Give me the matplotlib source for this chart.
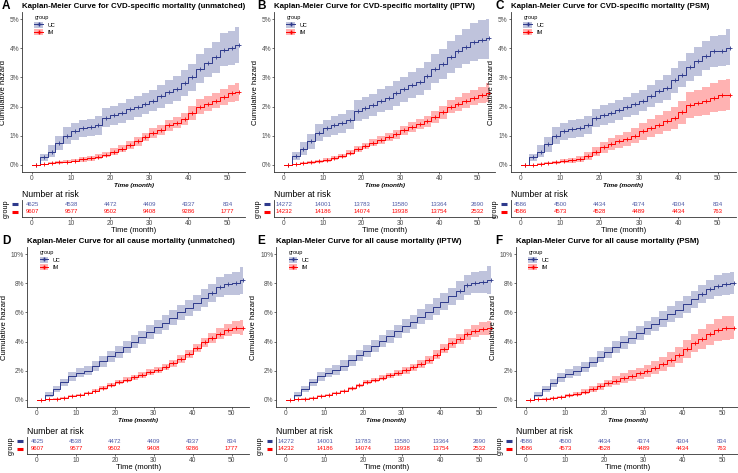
import numpy as np
import matplotlib
matplotlib.use('Agg')
import matplotlib.pyplot as plt
from matplotlib.patches import Patch
from matplotlib.lines import Line2D

plt.rcParams['font.family'] = ['Liberation Sans', 'DejaVu Sans']

# time grid (months) and risk table times
months = np.arange(0, 53, 2)
risk_times = [0, 10, 20, 30, 40, 50]

# cumulative hazard (%)
# A: CVD-specific, unmatched
a_uc = [0, .25, .45, .75, 1.0, 1.15, 1.25, 1.28, 1.35, 1.62, 1.7, 1.78, 1.9, 2.0, 2.1, 2.2, 2.35, 2.5, 2.62, 2.8, 3.0, 3.3, 3.5, 3.7, 3.95, 4.0, 4.1]
a_uc_lo = [0, .12, .25, .5, .72, .85, .95, .98, 1.03, 1.3, 1.37, 1.45, 1.55, 1.65, 1.74, 1.83, 1.96, 2.1, 2.2, 2.36, 2.55, 2.8, 3.0, 3.15, 3.38, 3.42, 3.5]
a_uc_hi = [0, .38, .68, 1.0, 1.3, 1.45, 1.55, 1.58, 1.67, 1.95, 2.03, 2.12, 2.25, 2.37, 2.47, 2.58, 2.75, 2.92, 3.05, 3.25, 3.47, 3.8, 4.02, 4.23, 4.52, 4.6, 4.72]
a_im = [0, .02, .05, .08, .1, .14, .18, .22, .28, .35, .45, .55, .68, .8, .95, 1.1, 1.2, 1.35, 1.45, 1.58, 1.78, 2.0, 2.1, 2.2, 2.33, 2.45, 2.5]
a_im_lo = [0, 0, .01, .03, .05, .08, .11, .14, .19, .25, .34, .43, .55, .66, .8, .93, 1.02, 1.16, 1.25, 1.37, 1.55, 1.76, 1.85, 1.94, 2.06, 2.16, 2.2]
a_im_hi = [0, .04, .08, .12, .15, .2, .25, .3, .37, .45, .56, .67, .81, .94, 1.1, 1.27, 1.38, 1.54, 1.65, 1.79, 2.01, 2.25, 2.36, 2.47, 2.61, 2.75, 2.82]

# B: CVD-specific, IPTW
b_uc = [0, .3, .55, .8, 1.1, 1.25, 1.35, 1.42, 1.55, 1.85, 1.95, 2.05, 2.2, 2.3, 2.45, 2.6, 2.75, 2.85, 3.05, 3.3, 3.45, 3.7, 3.9, 4.05, 4.22, 4.3, 4.37]
b_uc_lo = [0, .15, .33, .53, .8, .95, 1.03, 1.1, 1.22, 1.49, 1.58, 1.67, 1.8, 1.89, 2.03, 2.17, 2.3, 2.39, 2.57, 2.8, 2.93, 3.15, 3.33, 3.45, 3.57, 3.62, 3.62]
b_uc_hi = [0, .45, .77, 1.07, 1.4, 1.55, 1.67, 1.74, 1.88, 2.21, 2.32, 2.43, 2.6, 2.71, 2.87, 3.03, 3.2, 3.31, 3.53, 3.8, 3.97, 4.25, 4.47, 4.65, 4.87, 4.98, 5.0]
b_im = [0, .02, .05, .08, .12, .16, .22, .3, .42, .55, .65, .75, .85, .95, 1.05, 1.18, 1.3, 1.4, 1.5, 1.65, 1.8, 2.0, 2.1, 2.2, 2.3, 2.4, 2.48]
b_im_lo = [0, 0, .02, .04, .07, .1, .15, .22, .33, .45, .54, .63, .72, .81, .9, 1.02, 1.13, 1.22, 1.31, 1.45, 1.58, 1.77, 1.86, 1.95, 2.04, 2.12, 2.15]
b_im_hi = [0, .04, .08, .12, .17, .22, .29, .38, .51, .65, .76, .87, .98, 1.09, 1.2, 1.34, 1.47, 1.58, 1.69, 1.85, 2.02, 2.23, 2.34, 2.45, 2.56, 2.68, 2.82]

# C: CVD-specific, PSM
c_uc = [0, .25, .45, .7, 1.0, 1.15, 1.22, 1.27, 1.35, 1.6, 1.7, 1.78, 1.88, 1.98, 2.08, 2.2, 2.35, 2.52, 2.65, 2.9, 3.1, 3.35, 3.55, 3.75, 3.9, 3.92, 4.02]
c_uc_lo = [0, .12, .25, .45, .72, .86, .92, .97, 1.04, 1.28, 1.37, 1.45, 1.54, 1.63, 1.72, 1.83, 1.97, 2.13, 2.24, 2.47, 2.66, 2.88, 3.06, 3.24, 3.37, 3.38, 3.42]
c_uc_hi = [0, .38, .67, .96, 1.29, 1.45, 1.53, 1.58, 1.67, 1.93, 2.04, 2.12, 2.23, 2.34, 2.45, 2.58, 2.74, 2.92, 3.07, 3.34, 3.55, 3.83, 4.05, 4.27, 4.44, 4.47, 4.65]
c_im = [0, 0, .02, .05, .08, .12, .15, .2, .3, .45, .6, .7, .8, .9, 1.0, 1.15, 1.25, 1.38, 1.5, 1.6, 1.8, 2.05, 2.12, 2.2, 2.3, 2.38, 2.4]
c_im_lo = [0, 0, 0, .01, .03, .05, .07, .1, .17, .29, .41, .49, .58, .66, .74, .86, .94, 1.05, 1.15, 1.23, 1.4, 1.61, 1.66, 1.72, 1.8, 1.86, 1.88]
c_im_hi = [0, 0, .05, .1, .14, .19, .23, .3, .43, .61, .79, .91, 1.02, 1.14, 1.26, 1.44, 1.56, 1.71, 1.85, 1.97, 2.2, 2.49, 2.58, 2.68, 2.8, 2.9, 2.95]

# D: all cause, unmatched
d_uc = [0, .35, .75, 1.2, 1.6, 1.85, 2.0, 2.3, 2.65, 3.0, 3.3, 3.65, 4.0, 4.3, 4.65, 5.0, 5.3, 5.65, 6.0, 6.3, 6.65, 7.0, 7.35, 7.75, 7.95, 8.0, 8.2]
d_uc_lo = [0, .2, .55, .95, 1.3, 1.53, 1.67, 1.95, 2.28, 2.62, 2.9, 3.23, 3.57, 3.85, 4.18, 4.52, 4.8, 5.13, 5.46, 5.74, 6.07, 6.4, 6.72, 7.08, 7.23, 7.22, 7.3]
d_uc_hi = [0, .5, .95, 1.45, 1.9, 2.17, 2.33, 2.65, 3.02, 3.38, 3.7, 4.07, 4.43, 4.75, 5.12, 5.48, 5.8, 6.17, 6.54, 6.86, 7.23, 7.6, 7.98, 8.42, 8.67, 8.78, 9.1]
d_im = [0, .03, .08, .15, .25, .35, .47, .62, .8, 1.0, 1.22, 1.38, 1.55, 1.7, 1.88, 2.05, 2.25, 2.5, 2.8, 3.15, 3.55, 3.95, 4.25, 4.55, 4.8, 4.95, 4.95]
d_im_lo = [0, .01, .05, .1, .19, .28, .38, .52, .68, .87, 1.07, 1.22, 1.38, 1.52, 1.68, 1.84, 2.02, 2.26, 2.54, 2.87, 3.25, 3.63, 3.9, 4.17, 4.4, 4.5, 4.48]
d_im_hi = [0, .05, .11, .2, .31, .42, .56, .72, .92, 1.13, 1.37, 1.54, 1.72, 1.88, 2.08, 2.26, 2.48, 2.74, 3.06, 3.43, 3.85, 4.27, 4.6, 4.93, 5.2, 5.4, 5.45]

# E: all cause, IPTW
e_uc = [0, .35, .75, 1.2, 1.6, 1.85, 2.05, 2.35, 2.7, 3.05, 3.35, 3.7, 4.05, 4.35, 4.7, 5.05, 5.35, 5.7, 6.05, 6.4, 6.75, 7.1, 7.5, 7.9, 8.05, 8.1, 8.25]
e_uc_lo = [0, .2, .55, .95, 1.3, 1.53, 1.72, 2.0, 2.33, 2.67, 2.95, 3.28, 3.62, 3.9, 4.23, 4.57, 4.85, 5.18, 5.51, 5.84, 6.17, 6.5, 6.87, 7.23, 7.33, 7.32, 7.3]
e_uc_hi = [0, .5, .95, 1.45, 1.9, 2.17, 2.38, 2.7, 3.07, 3.43, 3.75, 4.12, 4.48, 4.8, 5.17, 5.53, 5.85, 6.22, 6.59, 6.96, 7.33, 7.7, 8.13, 8.57, 8.77, 8.88, 9.2]
e_im = [0, .03, .08, .15, .24, .34, .46, .6, .78, .98, 1.2, 1.36, 1.52, 1.68, 1.85, 2.02, 2.22, 2.46, 2.75, 3.1, 3.5, 3.9, 4.2, 4.5, 4.75, 4.88, 4.9]
e_im_lo = [0, .01, .05, .1, .18, .27, .37, .5, .66, .85, 1.05, 1.2, 1.35, 1.5, 1.65, 1.8, 1.98, 2.21, 2.48, 2.81, 3.19, 3.57, 3.85, 4.12, 4.34, 4.43, 4.42]
e_im_hi = [0, .05, .11, .2, .3, .41, .55, .7, .9, 1.11, 1.35, 1.52, 1.69, 1.86, 2.05, 2.24, 2.46, 2.71, 3.02, 3.39, 3.81, 4.23, 4.55, 4.88, 5.16, 5.33, 5.4]

# F: all cause, PSM
f_uc = [0, .35, .75, 1.15, 1.55, 1.8, 1.98, 2.25, 2.6, 2.95, 3.25, 3.6, 3.95, 4.25, 4.6, 4.9, 5.2, 5.55, 5.9, 6.2, 6.55, 6.9, 7.25, 7.6, 7.85, 7.95, 8.05]
f_uc_lo = [0, .2, .55, .9, 1.25, 1.48, 1.64, 1.9, 2.23, 2.57, 2.85, 3.18, 3.52, 3.8, 4.13, 4.42, 4.7, 5.03, 5.36, 5.64, 5.97, 6.3, 6.62, 6.94, 7.15, 7.22, 7.3]
f_uc_hi = [0, .5, .95, 1.4, 1.85, 2.12, 2.32, 2.6, 2.97, 3.33, 3.65, 4.02, 4.38, 4.7, 5.07, 5.38, 5.7, 6.07, 6.44, 6.76, 7.13, 7.5, 7.88, 8.26, 8.55, 8.68, 8.8]
f_im = [0, .02, .06, .12, .2, .3, .4, .55, .72, .92, 1.12, 1.3, 1.48, 1.65, 1.82, 2.0, 2.2, 2.45, 2.75, 3.1, 3.5, 3.9, 4.2, 4.5, 4.8, 4.95, 4.95]
f_im_lo = [0, 0, .02, .06, .12, .19, .27, .38, .52, .68, .85, 1.0, 1.15, 1.29, 1.44, 1.59, 1.76, 1.97, 2.24, 2.55, 2.9, 3.26, 3.52, 3.78, 4.03, 4.13, 4.2]
f_im_hi = [0, .04, .1, .18, .28, .41, .53, .72, .92, 1.16, 1.39, 1.6, 1.81, 2.01, 2.2, 2.41, 2.64, 2.93, 3.26, 3.65, 4.1, 4.54, 4.88, 5.22, 5.57, 5.77, 5.75]

# number at risk
risk_unm_uc = [4625, 4538, 4472, 4409, 4337, 834]
risk_unm_im = [9607, 9577, 9502, 9408, 9286, 1777]
risk_iptw_uc = [14272, 14001, 13783, 13580, 13364, 2690]
risk_iptw_im = [14232, 14186, 14074, 13938, 13754, 2532]
risk_psm_uc = [4586, 4500, 4434, 4374, 4304, 834]
risk_psm_im = [4586, 4573, 4528, 4489, 4434, 763]

UC_COL = '#2E3A8C'
IM_COL = '#FF0000'
UC_TXT = '#4F5AA6'
GREY = '#4D4D4D'

W, H = 738, 473
fig = plt.figure(figsize=(W / 100, H / 100), dpi=100)


def add_ax(l, t, w, h):
    return fig.add_axes([l / W, 1 - (t + h) / H, w / W, h / H])


def style(ax):
    for s in ['top', 'right']:
        ax.spines[s].set_visible(False)
    for s in ['left', 'bottom']:
        ax.spines[s].set_linewidth(0.6)
        ax.spines[s].set_color('#333333')
    ax.tick_params(length=1.5, width=0.5, pad=0.8, labelsize=4.8,
                   color='#333333', labelcolor=GREY)


def km(ax, est, lo, hi, color, ms, mark_from=0):
    t = np.append(months, 53)
    est, lo, hi = [np.append(v, v[-1]) for v in (est, lo, hi)]
    ax.fill_between(t, lo, hi, step='post', color=color, alpha=0.3, lw=0)
    ax.step(t, est, where='post', color=color, lw=0.7)
    m = t[:-1] >= mark_from
    ax.plot(t[:-1][m] + 1, est[:-1][m], '+', color=color, ms=ms, mew=0.6)


panels = [
    ('A', 'Kaplan-Meier Curve for CVD-specific mortality (unmatched)', 22.2, 223, 0,
     (a_uc, a_uc_lo, a_uc_hi), (a_im, a_im_lo, a_im_hi), risk_unm_uc, risk_unm_im),
    ('B', 'Kaplan-Meier Curve for CVD-specific mortality (IPTW)', 274.3, 221, 0,
     (b_uc, b_uc_lo, b_uc_hi), (b_im, b_im_lo, b_im_hi), risk_iptw_uc, risk_iptw_im),
    ('C', 'Kaplan-Meier Curve for CVD-specific mortality (PSM)', 511, 224.6, 0,
     (c_uc, c_uc_lo, c_uc_hi), (c_im, c_im_lo, c_im_hi), risk_psm_uc, risk_psm_im),
    ('D', 'Kaplan-Meier Curve for all cause mortality (unmatched)', 27.3, 222, 1,
     (d_uc, d_uc_lo, d_uc_hi), (d_im, d_im_lo, d_im_hi), risk_unm_uc, risk_unm_im),
    ('E', 'Kaplan-Meier Curve for all cause mortality (IPTW)', 276.4, 220, 1,
     (e_uc, e_uc_lo, e_uc_hi), (e_im, e_im_lo, e_im_hi), risk_iptw_uc, risk_iptw_im),
    ('F', 'Kaplan-Meier Curve for all cause mortality (PSM)', 516.2, 223.4, 1,
     (f_uc, f_uc_lo, f_uc_hi), (f_im, f_im_lo, f_im_hi), risk_psm_uc, risk_psm_im),
]

letter_x = {'A': 2, 'B': 257, 'C': 495, 'D': 2, 'E': 257, 'F': 495}

for letter, title, left, width, row, uc, im, r_uc, r_im in panels:
    top = 12 if row == 0 else 247
    ax = add_ax(left, top, width, 160)
    style(ax)
    if row == 0:
        km(ax, *uc, UC_COL, 3.5)
        km(ax, *im, IM_COL, 3.5)
        ymax, ystep = 5, 1
    else:
        km(ax, *uc, UC_COL, 3.5, mark_from=44)
        km(ax, *im, IM_COL, 2.2)
        ymax, ystep = 10, 2
    ax.set_xlim(-2.5, 54.5)
    ax.set_ylim(-0.05 * ymax, 1.05 * ymax)
    yt = np.arange(0, ymax + 1, ystep)
    ax.set_yticks(yt)
    ax.set_yticklabels([f'{v}%' for v in yt])
    ax.set_xticks(risk_times)
    ax.set_xlabel('Time (month)', fontsize=4.6, fontweight='bold',
                  fontstyle='italic', labelpad=0.5)
    ax.set_ylabel('Cumulative hazard', fontsize=5.6, labelpad=2)

    handles = [(Patch(facecolor=UC_COL, alpha=0.3, lw=0),
                Line2D([], [], color=UC_COL, lw=0.7, marker='+', ms=3)),
               (Patch(facecolor=IM_COL, alpha=0.3, lw=0),
                Line2D([], [], color=IM_COL, lw=0.7, marker='+', ms=3))]
    leg = ax.legend(handles, ['UC', 'IM'], title='group', loc='upper left',
                    bbox_to_anchor=(0.04, 1.0), frameon=False, fontsize=4,
                    title_fontsize=4, handlelength=1.6, handleheight=1.2,
                    labelspacing=0.3, borderaxespad=0.2)
    leg._legend_box.align = 'left'

    # titles
    ty = 1 - (6 if row == 0 else 241) / H
    fig.text(letter_x[letter] / W, ty, letter, fontsize=8.5, fontweight='bold',
             va='center', ha='left')
    fig.text(left / W, ty, title, fontsize=5.7, fontweight='bold',
             va='center', ha='left')

    # risk table
    rtop = 200 if row == 0 else 437
    axr = add_ax(left, rtop, width, 17)
    style(axr)
    axr.set_xlim(-2.5, 54.5)
    axr.set_ylim(-0.75, 1.6)
    axr.set_yticks([])
    axr.set_xticks(risk_times)
    for t, n1, n2 in zip(risk_times, r_uc, r_im):
        axr.text(t, 1, str(n1), ha='center', va='center', fontsize=4.3, color=UC_TXT)
        axr.text(t, 0, str(n2), ha='center', va='center', fontsize=4.3, color=IM_COL)
    tr = axr.get_yaxis_transform()
    axr.plot([-0.045, -0.018], [1, 1], transform=tr, clip_on=False,
             color=UC_COL, lw=2.2, solid_capstyle='butt')
    axr.plot([-0.045, -0.018], [0, 0], transform=tr, clip_on=False,
             color=IM_COL, lw=2.2, solid_capstyle='butt')
    axr.set_ylabel('group', fontsize=5.2, labelpad=9)
    axr.set_xlabel('Time (month)', fontsize=5.5, labelpad=0)
    axr.set_title('Number at risk', loc='left', fontsize=6.2, pad=2.5)

fig.savefig('out.png', dpi=100)
